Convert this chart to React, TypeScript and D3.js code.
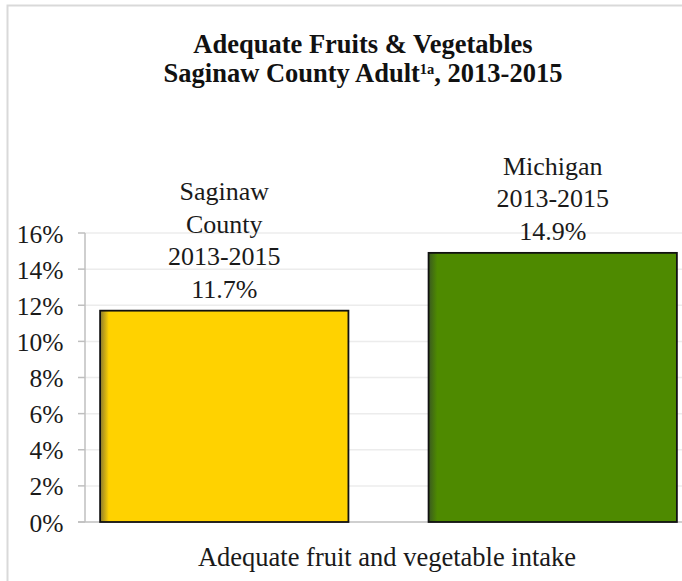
import React from 'react';
import * as d3 from 'd3';

const width = 682;
const height = 581;

const titleLines = ['Adequate Fruits & Vegetables', 'Saginaw County Adult'];
const categoryLabel = 'Adequate fruit and vegetable intake';
const seriesNames = ['Saginaw County', 'Michigan'];
const seriesValues = [11.7, 14.9];
const seriesLabels = [
    ['Saginaw', 'County', '2013-2015', '11.7%'],
    ['Michigan', '2013-2015', '14.9%'],
];
const seriesColors = ['#FFD200', '#4E8A00'];
const seriesShades = ['#8a7a30', '#3a5a20'];
const yTicks = [0, 2, 4, 6, 8, 10, 12, 14, 16];

const margin = { top: 233, right: -10, bottom: 59, left: 85 };
const serif = { fontFamily: '"Liberation Serif"' };

export default function App() {
    const y = d3
        .scaleLinear()
        .domain([0, 16])
        .range([height - margin.bottom, margin.top]);

    const x = d3
        .scaleBand()
        .domain(seriesNames)
        .range([margin.left, width - margin.right])
        .paddingInner(0.244)
        .paddingOuter(0.046);

    const lineH = 32.5;

    return (
        <svg
            width={width}
            height={height}
            style={{ position: 'absolute', left: 0, top: 0, background: '#fff' }}
        >
            <defs>
                {seriesColors.map((c, i) => (
                    <linearGradient key={i} id={`shade${i}`} x1="0" x2="1" y1="0" y2="0">
                        <stop offset="0" stopColor={seriesShades[i]} />
                        <stop offset="0.035" stopColor={c} />
                        <stop offset="1" stopColor={c} />
                    </linearGradient>
                ))}
            </defs>

            {/* chart border */}
            <rect x={7.5} y={5.5} width={width + 20} height={height + 20} fill="none" stroke="#d9d9d9" strokeWidth={2} />

            {/* title */}
            <text x={363} y={52.5} textAnchor="middle" fontWeight="bold" fontSize={26.5} fill="#111" style={serif}>
                {titleLines[0]}
            </text>
            <text x={363} y={81.5} textAnchor="middle" fontWeight="bold" fontSize={26.5} fill="#111" style={serif}>
                {titleLines[1]}
                <tspan fontSize={14.5} dy={-8}>1a</tspan>
                <tspan dy={8}>, 2013-2015</tspan>
            </text>

            {/* gridlines */}
            {yTicks.filter((t) => t > 0).map((t) => (
                <line key={t} x1={margin.left} x2={width} y1={y(t)} y2={y(t)} stroke="#ececec" strokeWidth={1.5} />
            ))}

            {/* y axis */}
            <line x1={margin.left} x2={margin.left} y1={y(16)} y2={y(0)} stroke="#bfbfbf" strokeWidth={1.5} />
            <line x1={margin.left - 7} x2={width} y1={y(0)} y2={y(0)} stroke="#bfbfbf" strokeWidth={1.5} />
            {yTicks.map((t) => (
                <g key={t}>
                    <line x1={margin.left - 7} x2={margin.left} y1={y(t)} y2={y(t)} stroke="#bfbfbf" strokeWidth={1.5} />
                    <text x={63.5} y={y(t) + 9.5} textAnchor="end" fontSize={25.5} fill="#1a1a1a" style={serif}>
                        {t}%
                    </text>
                </g>
            ))}

            {/* bars */}
            {seriesNames.map((s, i) => (
                <rect
                    key={s}
                    x={x(s)}
                    y={y(seriesValues[i])}
                    width={x.bandwidth()}
                    height={y(0) - y(seriesValues[i])}
                    fill={`url(#shade${i})`}
                    stroke="#111"
                    strokeWidth={1.8}
                />
            ))}

            {/* data labels */}
            {seriesNames.map((s, i) => {
                const lines = seriesLabels[i];
                const cx = (x(s) as number) + x.bandwidth() / 2;
                const base = y(seriesValues[i]) - 13;
                return (
                    <text key={s} textAnchor="middle" fontSize={26} fill="#1a1a1a" style={serif}>
                        {lines.map((l, j) => (
                            <tspan key={j} x={cx} y={base - (lines.length - 1 - j) * lineH}>
                                {l}
                            </tspan>
                        ))}
                    </text>
                );
            })}

            {/* category label */}
            <text x={387} y={566} textAnchor="middle" fontSize={26.5} fill="#1a1a1a" style={serif}>
                {categoryLabel}
            </text>
        </svg>
    );
}
